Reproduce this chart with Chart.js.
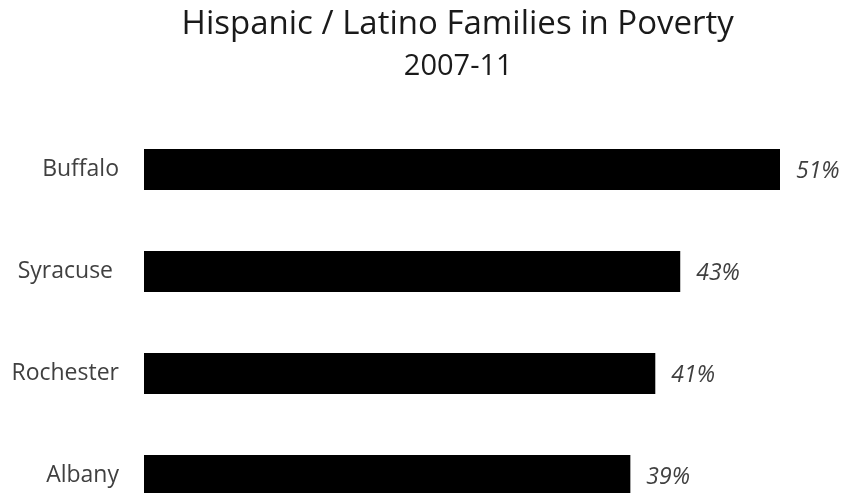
<!DOCTYPE html>
<html>
<head>
<meta charset="utf-8">
<script src="https://cdn.jsdelivr.net/npm/chart.js@4"></script>
<style>
  html, body { margin: 0; padding: 0; background: #fff; overflow: hidden; width: 848px; height: 493px; }
  canvas { display: block; }
</style>
</head>
<body>
<canvas id="c" width="848" height="540" style="width:848px;height:540px"></canvas>
<script>
const categories = ["Buffalo", "Syracuse ", "Rochester", "Albany"];
const values = [51, 43, 41, 39];
const valueLabels = ["51%", "43%", "41%", "39%"];
const titleText = "Hispanic / Latino Families in Poverty ";
const subtitleText = "2007-11 ";

const FONT = "'Open Sans', sans-serif";

const valueLabelPlugin = {
  id: 'valueLabels',
  afterDatasetsDraw(chart) {
    const ctx = chart.ctx;
    const meta = chart.getDatasetMeta(0);
    ctx.save();
    ctx.font = "italic 23px " + FONT;
    ctx.fillStyle = "#404040";
    ctx.textAlign = "left";
    ctx.textBaseline = "middle";
    meta.data.forEach((bar, i) => {
      ctx.fillText(valueLabels[i], bar.x + 16, bar.y + 2);
    });
    ctx.restore();
  }
};

new Chart(document.getElementById('c'), {
  type: 'bar',
  data: {
    labels: categories,
    datasets: [{
      data: values,
      backgroundColor: '#000000',
      borderWidth: 0,
      categoryPercentage: 1,
      barPercentage: 0.402
    }]
  },
  options: {
    indexAxis: 'y',
    responsive: false,
    animation: false,
    layout: { padding: { top: 0, right: 68, bottom: 13.5, left: 0 } },
    plugins: {
      legend: { display: false },
      tooltip: { enabled: false },
      title: {
        display: true,
        fullSize: false,
        text: titleText,
        color: '#1a1a1a',
        font: { family: FONT, size: 33, weight: 'normal', lineHeight: 1.2 },
        padding: { top: 5, bottom: 0 }
      },
      subtitle: {
        display: true,
        fullSize: false,
        text: subtitleText,
        color: '#1a1a1a',
        font: { family: FONT, size: 29, weight: 'normal', lineHeight: 1.2 },
        padding: { top: 4.5, bottom: 34.6 }
      }
    },
    scales: {
      x: { display: false, min: 0, max: 51 },
      y: {
        grid: { display: false, drawTicks: false },
        border: { display: false },
        ticks: { color: '#404040', font: { family: FONT, size: 23 }, padding: 25 },
        afterFit(scale) {
          scale.width = 144;
          scale.paddingTop = 0;
          scale.paddingBottom = 0;
        }
      }
    }
  },
  plugins: [valueLabelPlugin]
});
</script>
</body>
</html>
